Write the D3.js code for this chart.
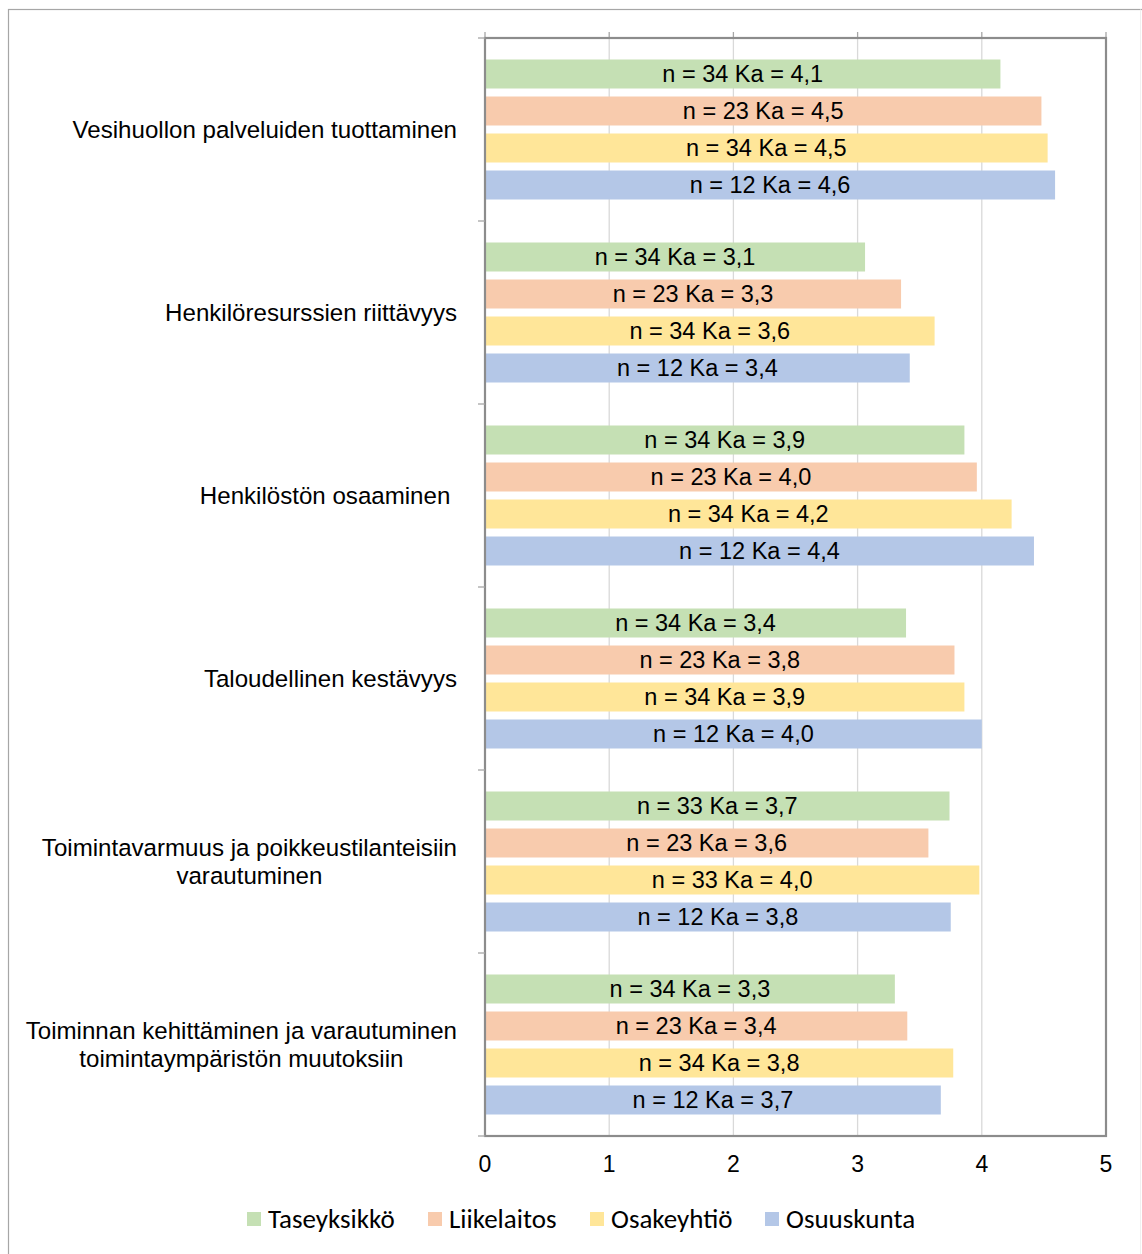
<!DOCTYPE html>
<html>
<head>
<meta charset="utf-8">
<script src="https://cdn.jsdelivr.net/npm/d3@7"></script>
<style>
  html, body { margin: 0; padding: 0; background: #fff; }
  svg { display: block; }
</style>
</head>
<body>
<script>
const categories = [
  ["Vesihuollon palveluiden tuottaminen"],
  ["Henkilöresurssien riittävyys"],
  ["Henkilöstön osaaminen "],
  ["Taloudellinen kestävyys"],
  ["Toimintavarmuus ja poikkeustilanteisiin", "varautuminen"],
  ["Toiminnan kehittäminen ja varautuminen", "toimintaympäristön muutoksiin"]
];
const seriesNames = ["Taseyksikkö", "Liikelaitos", "Osakeyhtiö", "Osuuskunta"];
const seriesColors = ["#c5e0b4", "#f8cbad", "#ffe699", "#b4c7e7"];
// bar lengths (mean values) per category, per series
const taseyksikko = [4.15, 3.06, 3.86, 3.39, 3.74, 3.30];
const liikelaitos = [4.48, 3.35, 3.96, 3.78, 3.57, 3.40];
const osakeyhtio  = [4.53, 3.62, 4.24, 3.86, 3.98, 3.77];
const osuuskunta  = [4.59, 3.42, 4.42, 4.00, 3.75, 3.67];
// respondent counts
const nTaseyksikko = [34, 34, 34, 34, 33, 34];
const nLiikelaitos = [23, 23, 23, 23, 23, 23];
const nOsakeyhtio  = [34, 34, 34, 34, 33, 34];
const nOsuuskunta  = [12, 12, 12, 12, 12, 12];
// label means as printed
const kaTaseyksikko = ["4,1", "3,1", "3,9", "3,4", "3,7", "3,3"];
const kaLiikelaitos = ["4,5", "3,3", "4,0", "3,8", "3,6", "3,4"];
const kaOsakeyhtio  = ["4,5", "3,6", "4,2", "3,9", "4,0", "3,8"];
const kaOsuuskunta  = ["4,6", "3,4", "4,4", "4,0", "3,8", "3,7"];
const xTicks = [0, 1, 2, 3, 4, 5];

const values = [taseyksikko, liikelaitos, osakeyhtio, osuuskunta];
const ns = [nTaseyksikko, nLiikelaitos, nOsakeyhtio, nOsuuskunta];
const kas = [kaTaseyksikko, kaLiikelaitos, kaOsakeyhtio, kaOsuuskunta];

const W = 1142, H = 1254;
const plot = { left: 485, right: 1106, top: 38, bottom: 1136 };

const svg = d3.select("body").append("svg").attr("width", W).attr("height", H);

// outer frame
svg.append("rect").attr("x", 8.5).attr("y", 9.5).attr("width", W + 10).attr("height", H + 10)
  .attr("fill", "none").attr("stroke", "#a6a6a6").attr("stroke-width", 1.2);
svg.append("line").attr("x1", 1140.5).attr("x2", 1140.5).attr("y1", 9.5).attr("y2", H)
  .attr("stroke", "#f0f0f0").attr("stroke-width", 1);

const x = d3.scaleLinear().domain([0, 5]).range([plot.left, plot.right]);
const y0 = d3.scaleBand().domain(d3.range(categories.length)).range([plot.top, plot.bottom]).padding(0);
const y1 = d3.scaleBand().domain(d3.range(seriesNames.length)).range([0, y0.bandwidth()])
  .paddingInner(8 / 37).paddingOuter(0.581);

// gridlines
svg.append("g").selectAll("line").data(xTicks.slice(1, -1)).join("line")
  .attr("x1", d => x(d)).attr("x2", d => x(d))
  .attr("y1", plot.top).attr("y2", plot.bottom)
  .attr("stroke", "#d9d9d9").attr("stroke-width", 1.3);

// top small ticks
svg.append("g").selectAll("line").data(xTicks).join("line")
  .attr("x1", d => x(d)).attr("x2", d => x(d))
  .attr("y1", plot.top - 6).attr("y2", plot.top)
  .attr("stroke", "#a6a6a6").attr("stroke-width", 1.3);

const font = "'Liberation Sans', Arial, sans-serif";

// bars
const groups = svg.append("g").selectAll("g").data(categories).join("g")
  .attr("transform", (d, i) => `translate(0,${y0(i)})`);

groups.each(function (cat, ci) {
  const g = d3.select(this);
  seriesNames.forEach((s, si) => {
    const v = values[si][ci];
    g.append("rect")
      .attr("x", x(0)).attr("y", y1(si))
      .attr("width", x(v) - x(0)).attr("height", y1.bandwidth())
      .attr("fill", seriesColors[si]);
    g.append("text")
      .attr("x", (x(0) + x(v)) / 2).attr("y", y1(si) + y1.bandwidth() / 2)
      .attr("dy", "0.36em").attr("text-anchor", "middle")
      .attr("font-family", font).attr("font-size", 23.5)
      .attr("fill", "#000")
      .text(`n = ${ns[si][ci]} Ka = ${kas[si][ci]}`);
  });
});

// plot border
svg.append("rect").attr("x", plot.left).attr("y", plot.top)
  .attr("width", plot.right - plot.left).attr("height", plot.bottom - plot.top)
  .attr("fill", "none").attr("stroke", "#8c8c8c").attr("stroke-width", 2.2);

// left axis ticks at group boundaries
const boundaries = d3.range(categories.length + 1).map(i => i < categories.length ? y0(i) : plot.bottom);
svg.append("g").selectAll("line").data(boundaries).join("line")
  .attr("x1", plot.left - 7).attr("x2", plot.left)
  .attr("y1", d => d).attr("y2", d => d)
  .attr("stroke", "#a6a6a6").attr("stroke-width", 1.3);

// category labels
const labelRight = 457;
const catG = svg.append("g");
categories.forEach((lines, ci) => {
  const cy = y0(ci) + y0.bandwidth() / 2;
  const lh = 28;
  const t = catG.append("text")
    .attr("font-family", font).attr("font-size", 24.1).attr("fill", "#000")
    .attr("text-anchor", "middle").style("white-space", "pre");
  const spans = lines.map((ln, li) => t.append("tspan")
    .attr("y", cy + (li - (lines.length - 1) / 2) * lh)
    .attr("dy", "0.36em").text(ln));
  const widths = spans.map(sp => sp.node().getComputedTextLength());
  const maxW = d3.max(widths);
  spans.forEach(sp => sp.attr("x", labelRight - maxW / 2));
});

// x axis labels
svg.append("g").selectAll("text").data(xTicks).join("text")
  .attr("x", d => x(d)).attr("y", 1164).attr("dy", "0.36em")
  .attr("text-anchor", "middle")
  .attr("font-family", font).attr("font-size", 23).attr("fill", "#000")
  .text(d => d);

// legend
const legendX = [247, 428, 590, 765];
const lg = svg.append("g").selectAll("g").data(seriesNames).join("g")
  .attr("transform", (d, i) => `translate(${legendX[i]},1219)`);
lg.append("rect").attr("x", 0).attr("y", -7).attr("width", 14).attr("height", 14)
  .attr("fill", (d, i) => seriesColors[i]);
lg.append("text").attr("x", 21).attr("y", 0).attr("dy", "0.34em")
  .attr("font-family", "Carlito, 'Liberation Sans', Arial, sans-serif").attr("font-size", 27)
  .attr("fill", "#000").text(d => d);
</script>
</body>
</html>
